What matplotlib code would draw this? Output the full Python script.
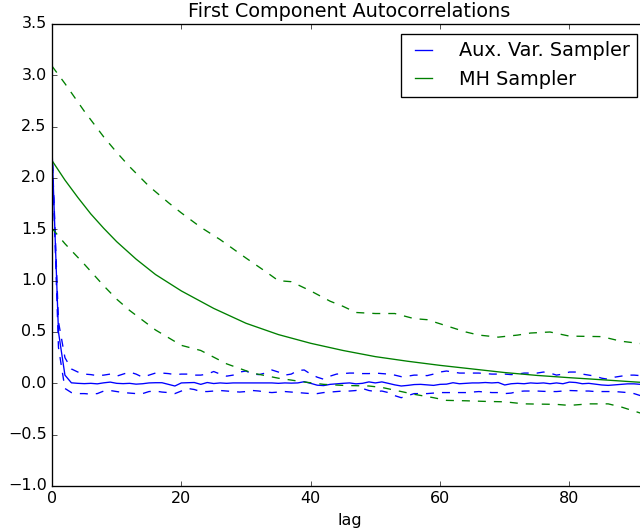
import numpy as np
import matplotlib
matplotlib.use('Agg')
import matplotlib.pyplot as plt

plt.style.use('classic')

# auxiliary variable sampler: mean and bounds, one value per lag 0..92
aux_mean = [2.29, 0.5, 0.08, 0.005, 0.0, -0.003, 0.0, -0.005, 0.005, 0.012,
            0.0, -0.003, 0.0, -0.008, -0.004, 0.004, 0.006, 0.006, -0.01, -0.026,
            0.004, 0.006, 0.008, -0.01, 0.008, -0.002, 0.004, 0.0, 0.004, 0.004,
            0.004, 0.004, 0.004, 0.004, 0.004, 0.0, 0.004, 0.002, 0.004, 0.016,
            0.0, -0.018, -0.022, -0.01, -0.005, 0.0, 0.004, -0.005, 0.0, 0.014,
            0.004, 0.014, 0.0, -0.015, -0.026, -0.02, -0.012, -0.01, -0.015, -0.02,
            -0.01, -0.008, 0.006, -0.004, 0.0, 0.004, 0.004, 0.008, 0.004, 0.008,
            -0.016, -0.004, 0.0, -0.004, 0.004, 0.0, 0.004, -0.004, 0.004, -0.004,
            0.012, 0.008, -0.004, 0.0, -0.008, -0.016, -0.02, -0.015, -0.01, -0.005,
            -0.005, -0.01, -0.005]
aux_hi = [2.30, 0.6, 0.25, 0.14, 0.11, 0.09, 0.085, 0.075, 0.08, 0.09,
          0.07, 0.09, 0.11, 0.09, 0.06, 0.08, 0.1, 0.1, 0.095, 0.085,
          0.09, 0.09, 0.08, 0.08, 0.09, 0.115, 0.09, 0.07, 0.08, 0.11,
          0.12, 0.09, 0.085, 0.10, 0.13, 0.11, 0.08, 0.09, 0.125, 0.13,
          0.09, 0.06, 0.04, 0.07, 0.09, 0.095, 0.1, 0.1, 0.095, 0.095,
          0.1, 0.095, 0.09, 0.08, 0.065, 0.07, 0.08, 0.08, 0.075, 0.09,
          0.11, 0.12, 0.11, 0.1, 0.1, 0.1, 0.1, 0.095, 0.09, 0.09,
          0.09, 0.085, 0.09, 0.1, 0.1, 0.1, 0.11, 0.1, 0.08, 0.09,
          0.11, 0.11, 0.09, 0.08, 0.07, 0.05, 0.04, 0.06, 0.07, 0.08,
          0.08, 0.075, 0.08]
aux_lo = [2.28, 0.35, -0.05, -0.09, -0.1, -0.1, -0.105, -0.1, -0.075, -0.07,
          -0.08, -0.09, -0.095, -0.1, -0.1, -0.08, -0.075, -0.085, -0.09, -0.1,
          -0.075, -0.05, -0.06, -0.08, -0.08, -0.075, -0.07, -0.075, -0.08, -0.085,
          -0.08, -0.07, -0.075, -0.085, -0.09, -0.085, -0.08, -0.085, -0.09, -0.095,
          -0.1, -0.1, -0.09, -0.085, -0.08, -0.075, -0.075, -0.07, -0.05, -0.07,
          -0.08, -0.075, -0.09, -0.12, -0.14, -0.12, -0.1, -0.1, -0.1, -0.095,
          -0.09, -0.09, -0.09, -0.09, -0.09, -0.085, -0.08, -0.085, -0.09, -0.09,
          -0.1, -0.095, -0.08, -0.075, -0.075, -0.075, -0.078, -0.08, -0.08, -0.075,
          -0.07, -0.072, -0.075, -0.075, -0.08, -0.08, -0.08, -0.08, -0.085, -0.09,
          -0.1, -0.12, -0.13]
aux_lag = np.arange(len(aux_mean))

# MH sampler, read at selected lags
mh_mean_lag = [0, 2, 4, 6, 8, 10, 13, 16, 20, 25, 30, 35, 40, 45, 50, 55,
               60, 65, 70, 75, 80, 85, 90, 92]
mh_mean = [2.17, 1.98, 1.81, 1.65, 1.51, 1.38, 1.21, 1.06, 0.90, 0.73, 0.585,
           0.475, 0.39, 0.32, 0.26, 0.215, 0.175, 0.14, 0.105, 0.077, 0.055,
           0.035, 0.014, 0.006]
mh_hi_lag = [0, 2, 5, 8, 10, 12, 15, 18, 20, 23, 26, 30, 33, 35, 37, 40, 43,
             45, 47, 50, 53, 56, 58, 61, 64, 66, 69, 72, 74, 77, 80, 85, 88, 92]
mh_hi = [3.09, 2.92, 2.65, 2.40, 2.25, 2.11, 1.92, 1.76, 1.66, 1.52, 1.40,
         1.22, 1.09, 1.00, 0.99, 0.90, 0.80, 0.75, 0.69, 0.68, 0.68, 0.63,
         0.62, 0.56, 0.50, 0.47, 0.45, 0.47, 0.49, 0.50, 0.46, 0.455, 0.41, 0.38]
mh_lo_lag = [0, 2, 5, 8, 10, 12, 16, 20, 23, 27, 31, 35, 39, 42, 45, 49, 51,
             54, 56, 59, 61, 64, 67, 70, 73, 78, 80, 83, 86, 88, 90, 92]
mh_lo = [1.51, 1.36, 1.16, 0.95, 0.82, 0.71, 0.52, 0.37, 0.32, 0.19, 0.10,
         0.05, 0.013, -0.01, -0.02, -0.026, -0.04, -0.08, -0.107, -0.14,
         -0.166, -0.17, -0.176, -0.18, -0.2, -0.205, -0.215, -0.2, -0.2,
         -0.23, -0.27, -0.31]

fig = plt.figure(figsize=(640 / 96.0, 531 / 96.0), dpi=96, facecolor='white')
ax = fig.add_axes([52 / 640.0, 45 / 531.0, 595 / 640.0, 462 / 531.0])

ax.plot(aux_lag, aux_mean, 'b-', label='Aux. Var. Sampler')
ax.plot(aux_lag, aux_hi, 'b--')
ax.plot(aux_lag, aux_lo, 'b--')
ax.plot(mh_mean_lag, mh_mean, 'g-', label='MH Sampler')
ax.plot(mh_hi_lag, mh_hi, 'g--')
ax.plot(mh_lo_lag, mh_lo, 'g--')

ax.set_xlim(0, 92)
ax.set_ylim(-1.0, 3.5)
ax.set_xticks([0, 20, 40, 60, 80])
ax.set_xlabel('lag')
ax.set_title('First Component Autocorrelations')
ax.legend(loc='upper right', handlelength=1.5, handletextpad=1.1)

fig.savefig('out.png', dpi=96, facecolor='white')
